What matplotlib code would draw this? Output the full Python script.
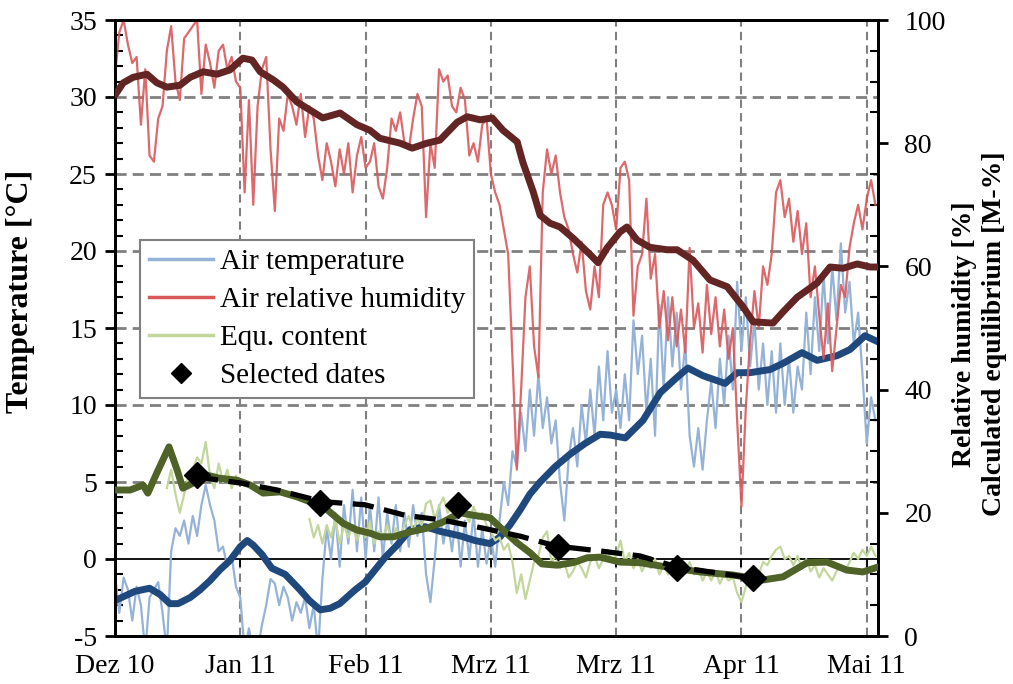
import numpy as np
import matplotlib.pyplot as plt
from matplotlib.lines import Line2D
from matplotlib.ticker import MultipleLocator

# x axis in days from the start of the record
tick_days = [0, 29, 58, 87, 116, 145, 174]
tick_labels = ['Dez 10', 'Jan 11', 'Feb 11', 'Mrz 11', 'Mrz 11', 'Apr 11', 'Mai 11']

# daily raw values
temp_raw = [
    -1.0, -3.5, -1.2, -2.0, -4.0, -1.8, -3.0, -6.0, -2.5, -2.0,
    -1.5, -3.5, -6.0, 0.5, 2.0, 1.5, 2.5, 1.0, 2.8, 1.5,
    3.5, 4.8, 3.5, 2.5, 0.5, 0.8, -0.5, 0.2, -1.8, -2.5,
    -6.0, -4.5, -6.0, -6.0, -4.3, -3.0, -1.3, -1.6, -3.0, -1.8,
    -2.5, -4.0, -2.8, -3.5, -2.5, -4.5, -3.0, -6.0, -1.3, 2.0,
    0.0, 3.0, -0.5, 3.5, 1.0, 4.5, 0.5, 4.0, 0.0, 3.5,
    0.5, 4.0, 0.0, 3.0, 1.0, 3.5, 0.5, 3.0, 0.8, 3.5,
    1.5, 3.0, -1.0, -2.8, 0.0, 3.5, 1.0, 2.5, 0.5, 3.0,
    -0.5, 2.5, 0.0, 3.0, -0.5, 2.0, -0.3, 1.5, -0.5, 2.5,
    5.0, 3.5, 7.0, 6.0, 9.5, 7.0, 11.0, 8.0, 12.0, 8.5,
    10.5, 7.5, 9.0, 5.0, 2.5, 6.5, 8.5, 6.0, 10.0, 7.5,
    11.0, 8.0, 12.5, 9.0, 13.5, 9.5, 11.0, 8.5, 12.0, 9.0,
    15.5, 12.0, 14.5, 9.5, 13.0, 8.0, 16.5, 11.0, 17.0, 12.5,
    16.0, 11.0, 14.0, 8.0, 6.0, 8.5, 5.8, 9.0, 11.5, 8.5,
    13.0, 10.0, 14.5, 11.0, 18.0, 13.5, 17.0, 12.5, 15.5, 11.0,
    14.0, 10.0, 13.5, 9.5, 14.0, 10.0, 13.0, 9.5, 12.5, 11.0,
    16.0, 12.0, 17.0, 13.5, 18.5, 14.0, 19.0, 15.5, 20.5, 16.0,
    18.0, 14.0, 16.0, 12.0, 7.5, 10.5, 9.0]

rh_raw = [
    91, 98, 100, 96, 93, 94, 83, 92, 78, 77,
    84, 86, 95, 99, 90, 87, 97, 98, 99, 100,
    88, 96, 93, 89, 95, 96, 92, 94, 90, 89,
    72, 87, 70, 86, 92, 94, 79, 69, 84, 82,
    88, 86, 83, 88, 81, 86, 84, 78, 74, 80,
    77, 73, 79, 75, 80, 72, 78, 81, 76, 77,
    80, 73, 71, 76, 84, 82, 85, 80, 79, 84,
    88, 86, 68, 80, 76, 92, 90, 91, 86, 85,
    89, 87, 78, 80, 77, 83, 84, 75, 72, 70,
    66, 62, 45, 27, 40, 55, 60, 47, 42, 72,
    79, 75, 78, 72, 68, 66, 62, 59, 64, 56,
    53, 60, 55, 70, 72, 70, 66, 76, 77, 74,
    52, 60, 62, 71, 58, 62, 50, 56, 48, 55,
    47, 53, 46, 63, 50, 54, 46, 57, 49, 55,
    47, 53, 45, 50, 35, 21, 37, 48, 56, 50,
    60, 57, 62, 72, 74, 68, 71, 64, 69, 62,
    67, 55, 60, 52, 45, 54, 43, 50, 57, 55,
    63, 67, 70, 66, 71, 74, 70]

nan = np.nan
eq_raw = [nan] * 12 + [
    24, 27, 23, 20, 23, 26, 27, 29, 28, 31.5,
    26, 24, 28, 25, 27, 24, 26] + [nan] * 16 + [
    19, 16, 18, 15, 18, 16, 19, 15, 18, 16,
    18, 15.5, 17.5, 16, 18.5, 15, 17, 16, 18, 15.5,
    17.5, 16, 18, 19.5, 17, 19, 18, 21.5, 22, 19,
    21, 22.5, 20, 21, 19.5, 22, 20, 18.5, 21, 19,
    20, 18, 17, 15.5, 16, 14, 15, 12, 7, 10,
    6, 9, 12, 13, 16, 17, 12, 13, 11, 12,
    9.5, 10.5, 12, 11, 9.5, 12, 13, 11, 12.5, 14,
    12, 13, 15.5, 12, 13.5, 11, 12.5, 10.5, 12, 11,
    12.5, 10, 11.5, 10, 11, 9.5, 11, 10.5, 12, 10,
    11, 9, 10.5, 9, 10.5, 8.5, 10, 9, 9.5, 7,
    5.5, 8, 9.5, 11, 10, 12, 11.5, 13, 14, 14.5,
    12.5, 13, 11.5, 13, 11, 12.5, 10.5, 11.5, 9.5, 11,
    10, 9, 10.5, 11.5, 10.5, 12, 13.5, 12.5, 14, 13,
    14.5, 13]

# moving averages
temp_avg_day = [0, 4.6, 8, 10.4, 12.7, 14.6, 17.4, 19.7, 22, 24.3,
                26.6, 29, 30.6, 32, 34, 36.3, 39.4, 42.8, 45, 47.5,
                49.8, 52, 55.6, 57.9, 60.2, 62.5, 65.3, 68.3, 71.8, 75.2,
                79.9, 83.3, 86.8, 89, 91.4, 93.8, 96, 98.4, 101.9, 105.3,
                108.8, 112.3, 114.6, 118.1, 122.2, 126.2, 130.1, 132.6, 136.1, 141.2,
                144, 147, 151.6, 154.6, 159, 162.5, 167.1, 170.1, 173.6, 176.6]
temp_avg = [-2.7, -2.1, -1.9, -2.3, -2.9, -2.9, -2.5, -2.0, -1.4, -0.7,
            -0.1, 0.8, 1.2, 0.9, 0.3, -0.6, -1.0, -2.0, -2.7, -3.3,
            -3.2, -2.9, -2.0, -1.5, -0.7, 0.1, 0.9, 1.9, 2.1, 1.8,
            1.5, 1.2, 1.0, 1.4, 2.2, 3.2, 4.2, 5.0, 6.0, 6.8,
            7.5, 8.1, 8.05, 7.86, 9.0, 10.8, 11.8, 12.4, 11.9, 11.4,
            12.1, 12.1, 12.3, 12.7, 13.4, 12.9, 13.2, 13.6, 14.5, 14.1]

rh_avg_day = [0, 1.9, 4.2, 7.4, 9.7, 12, 15, 17.4, 20.4, 23.6,
              26.6, 29.6, 31.7, 33.6, 36.6, 38.9, 42.1, 45.1, 48.1, 52.1,
              56, 59, 61.3, 66, 68.8, 72.2, 75.2, 79.2, 81.5, 84.5,
              87.3, 89.8, 93.1, 94.4, 96.8, 98.4, 100.7, 103, 106, 110,
              111.8, 113.9, 116.9, 118.5, 120.8, 123.8, 127.8, 130.1, 133.8, 137.7,
              141.7, 145.4, 147.7, 152.3, 154.6, 157.9, 162.5, 165.5, 168.5, 171.8,
              174.8, 176.6]
rh_avg = [87.8, 89.8, 90.7, 91.2, 89.8, 89.1, 89.4, 90.7, 91.6, 91.2,
          91.9, 93.8, 93.5, 91.6, 90.3, 89.1, 86.7, 85.4, 84.1, 84.9,
          83.0, 82.1, 80.8, 80.0, 79.2, 80.0, 80.5, 83.4, 84.3, 83.8,
          84.1, 82.1, 80.2, 76.9, 72.1, 68.3, 67.0, 66.4, 64.6, 61.9,
          60.6, 63.0, 65.6, 66.4, 64.3, 63.1, 62.7, 62.7, 61.0, 57.8,
          56.7, 53.4, 51.0, 50.8, 52.6, 55.0, 57.3, 59.9, 59.7, 60.4,
          59.9, 59.9]

eq_avg_day = [0, 3.5, 6.5, 7.6, 9.7, 12.5, 14.4, 15.7, 18, 21.3,
              24.3, 28.2, 31.3, 34.3, 38.2, 42.1, 45.1, 49.1, 52.8, 56,
              59, 61.3, 64.4, 68.3, 72.2, 75.9, 79.9, 82.9, 86.8, 89.8,
              93.1, 96.1, 98.8, 102.3, 106, 109.3, 112.3, 116.9, 121.5, 127.8,
              135.4, 143.1, 150, 154.6, 160.2, 164.8, 169.4, 173.1, 176.6]
eq_avg = [23.7, 23.7, 24.5, 23.2, 26.5, 30.7, 26.9, 24.0, 24.8, 26.1,
          25.6, 25.3, 24.5, 23.2, 23.4, 22.6, 21.8, 20.5, 18.3, 17.2,
          16.7, 16.1, 16.1, 16.9, 17.5, 18.5, 20.0, 19.6, 19.2, 17.2,
          15.1, 13.5, 11.7, 11.5, 11.9, 12.7, 12.8, 12.0, 11.9, 11.2,
          10.4, 9.9, 9.1, 9.6, 11.9, 12.0, 10.7, 10.4, 11.2]

# selected dates and the dashed trend through them
sel_day = [19, 47.5, 79.4, 102.5, 130, 147.7]
sel_eq = [26.1, 21.6, 21.3, 14.4, 11.0, 9.4]
trend_day = [19, 29.4, 37.5, 48.1, 57.9, 67.1, 75.9, 85.2, 93.8, 102.1,
             112.3, 121.5, 130.1, 140.7, 147.7]
trend_eq = [25.8, 24.8, 23.7, 21.8, 21.3, 19.6, 18.8, 17.5, 16.2, 14.6,
            13.8, 13.0, 11.2, 10.1, 9.4]

days = np.arange(len(temp_raw))
eq_raw = np.array(eq_raw, dtype=float)

plt.rcParams['font.family'] = ['Liberation Serif', 'DejaVu Serif']
plt.rcParams['font.size'] = 20
plt.rcParams['axes.unicode_minus'] = False

fig = plt.figure(figsize=(10.13, 6.84), dpi=100)
ax = fig.add_axes([115 / 1013, 48 / 684, 763 / 1013, 616 / 684])
ax2 = ax.twinx()

ax.set_xlim(0, 176.6)
ax.set_ylim(-5, 35)
ax2.set_ylim(0, 100)

# grid
grid_kw = dict(color='#808080', zorder=0)
for y in range(5, 35, 5):
    ax.axhline(y, lw=2, ls=(0, (4, 2.2)), **grid_kw)
for d in tick_days[1:]:
    ax.axvline(d, lw=1.5, ls=(0, (4, 2.5)), **grid_kw)
ax.axhline(0, color='k', lw=1.3, zorder=1)
ax.plot(tick_days, [0] * len(tick_days), ls='none', marker=3, ms=6, mew=1.3,
        color='k', clip_on=False, zorder=1)

# temperature (left axis)
l_temp, = ax.plot(days, temp_raw, color='#95B3D7', lw=1.6, zorder=2)
ax.plot(temp_avg_day, temp_avg, color='#1F497D', lw=5,
        solid_capstyle='round', solid_joinstyle='round', zorder=3)

# humidity and equilibrium content (right axis)
l_rh, = ax2.plot(days, rh_raw, color='#D9595B', lw=1.6, alpha=0.9, zorder=2)
l_eq, = ax2.plot(days, eq_raw, color='#C3D69B', lw=1.6, zorder=2)
ax2.plot(rh_avg_day, rh_avg, color='#632523', lw=5,
         solid_capstyle='round', solid_joinstyle='round', zorder=3)
ax2.plot(eq_avg_day, eq_avg, color='#4F6228', lw=5,
         solid_capstyle='round', solid_joinstyle='round', zorder=3)
ax2.plot(trend_day, trend_eq, color='k', lw=3.8, dashes=(4, 2), zorder=4)
ax2.plot(sel_day, sel_eq, ls='none', marker='D', ms=13, color='k', zorder=5)

# axes styling
for a in (ax, ax2):
    for s in a.spines.values():
        s.set_color('k')
        s.set_linewidth(2)

ax.set_xticks(tick_days)
ax.set_xticklabels(tick_labels)
ax.tick_params(axis='x', length=0, pad=13, labelsize=20)

ax.yaxis.set_major_locator(MultipleLocator(5))
ax.yaxis.set_minor_locator(MultipleLocator(1))
ax.tick_params(axis='y', which='major', direction='out', length=7, width=2,
               pad=6, labelsize=20)
ax.tick_params(axis='y', which='minor', direction='in', length=6, width=1.5)

ax2.yaxis.set_major_locator(MultipleLocator(20))
ax2.yaxis.set_minor_locator(MultipleLocator(5))
ax2.tick_params(axis='y', which='major', direction='out', length=7, width=2,
                pad=12, labelsize=20)
ax2.tick_params(axis='y', which='minor', direction='in', length=6, width=1.5)

ax.set_ylabel('Temperature [°C]', fontweight='bold', fontsize=23)
ax.yaxis.set_label_coords(-0.105, 0.56)
ax2.set_ylabel('Relative humidity [%]\nCalculated equilibrium [M-%]',
               fontweight='bold', fontsize=20, linespacing=1.25)
ax2.yaxis.set_label_coords(1.097, 0.49)

sel_handle = Line2D([], [], ls='none', marker='D', ms=10, color='k')
leg = ax2.legend([l_temp, l_rh, l_eq, sel_handle],
                 ['Air temperature', 'Air relative humidity', 'Equ. content', 'Selected dates'],
                 loc='upper left', bbox_to_anchor=(0.0328, 0.643), borderaxespad=0,
                 fancybox=False, framealpha=1, edgecolor='#808080',
                 handlelength=2.2, handletextpad=0.25, labelspacing=0.4,
                 borderpad=0.3, fontsize=21)
leg.get_frame().set_linewidth(1.5)
for h in leg.get_lines()[:3]:
    h.set_linewidth(2.5)
    h.set_alpha(1)
leg.set_zorder(10)

fig.savefig('out.png', dpi=100)
